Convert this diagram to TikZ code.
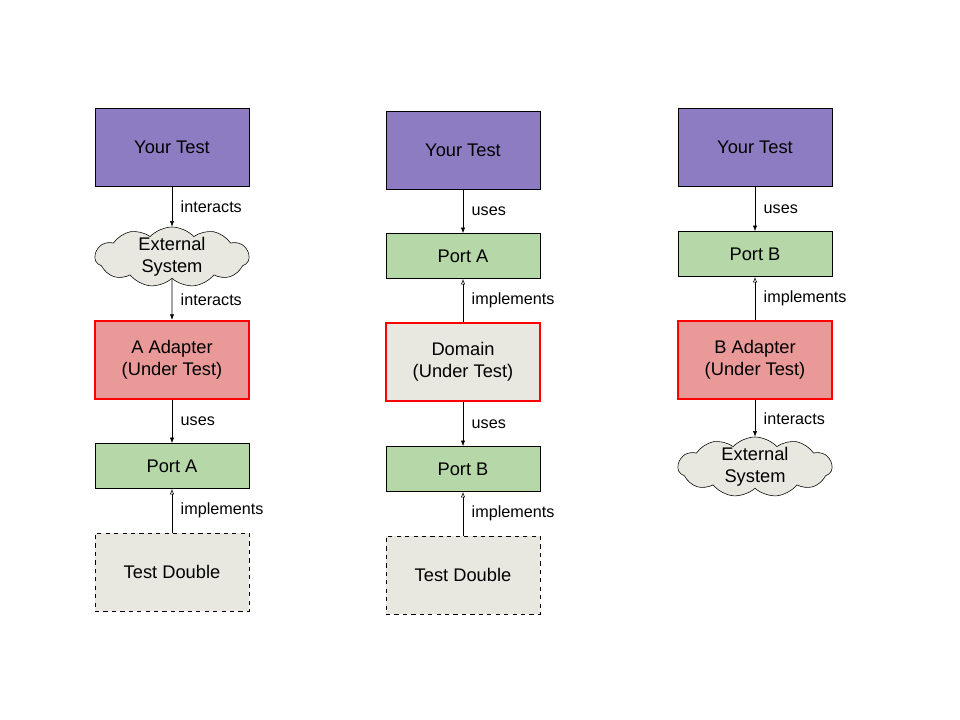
\documentclass[tikz,border=0pt]{standalone}
\usepackage{fontspec}
\setmainfont{Liberation Sans}
\usetikzlibrary{arrows.meta,shapes.symbols}
\definecolor{testpurple}{HTML}{8E7CC3}
\definecolor{portgreen}{HTML}{B6D7A8}
\definecolor{sutpink}{HTML}{EA9999}
\definecolor{lightgray}{HTML}{E8E8E0}

\begin{document}
\begin{tikzpicture}[x=0.025cm,y=-0.025cm,
    box/.style={draw,rectangle,minimum width=3.85cm,inner sep=0pt,font=\fontsize{13}{16}\selectfont,align=center},
    yourtest/.style={box,fill=testpurple,minimum height=1.95cm},
    port/.style={box,fill=portgreen,minimum height=1.125cm},
    sut/.style={box,draw=red,line width=1.5pt,minimum height=1.95cm},
    double/.style={box,fill=lightgray,dashed,minimum height=1.95cm},
    extsys/.style={draw,cloud,cloud puffs=11,cloud puff arc=95,aspect=2.8,fill=lightgray,minimum width=3.85cm,minimum height=1.5cm,inner xsep=-4pt,inner ysep=-3pt,font=\fontsize{13}{15.5}\selectfont,align=center},
    uses/.style={-{Latex[length=4pt,width=3pt]}},
    impl/.style={-{Latex[open,length=4pt,width=3pt]}},
    lbl/.style={right,font=\fontsize{11.5}{13}\selectfont,inner sep=2pt,xshift=4pt}]
  \useasboundingbox[fill=white] (0,0) rectangle (960,720);

  % left column: adapter A under test
  \node[yourtest] (testl) at (172,147) {Your Test};
  \node[extsys] (extl) at (172,257) {External\\System};
  \node[sut,fill=sutpink] (adapta) at (172,360) {A Adapter\\(Under Test)};
  \node[port] (porta) at (172,466) {Port A};
  \node[double] (doublel) at (172,572) {Test Double};
  \draw[uses] (testl) -- node[lbl] {interacts} (extl);
  \draw[uses] (extl) -- node[lbl] {interacts} (adapta);
  \draw[uses] (adapta) -- node[lbl] {uses} (porta);
  \draw[impl] (doublel) -- node[lbl] {implements} (porta);

  % middle column: domain under test
  \node[yourtest] (testm) at (463,150) {Your Test};
  \node[port] (portam) at (463,256) {Port A};
  \node[sut,fill=lightgray] (domain) at (463,362) {Domain\\(Under Test)};
  \node[port] (portbm) at (463,469) {Port B};
  \node[double] (doublem) at (463,575) {Test Double};
  \draw[uses] (testm) -- node[lbl] {uses} (portam);
  \draw[impl] (domain) -- node[lbl] {implements} (portam);
  \draw[uses] (domain) -- node[lbl] {uses} (portbm);
  \draw[impl] (doublem) -- node[lbl] {implements} (portbm);

  % right column: adapter B under test
  \node[yourtest] (testr) at (755,147) {Your Test};
  \node[port] (portb) at (755,254) {Port B};
  \node[sut,fill=sutpink] (adaptb) at (755,360) {B Adapter\\(Under Test)};
  \node[extsys] (extr) at (755,467) {External\\System};
  \draw[uses] (testr) -- node[lbl] {uses} (portb);
  \draw[impl] (adaptb) -- node[lbl] {implements} (portb);
  \draw[uses] (adaptb) -- node[lbl] {interacts} (extr);
\end{tikzpicture}
\end{document}
